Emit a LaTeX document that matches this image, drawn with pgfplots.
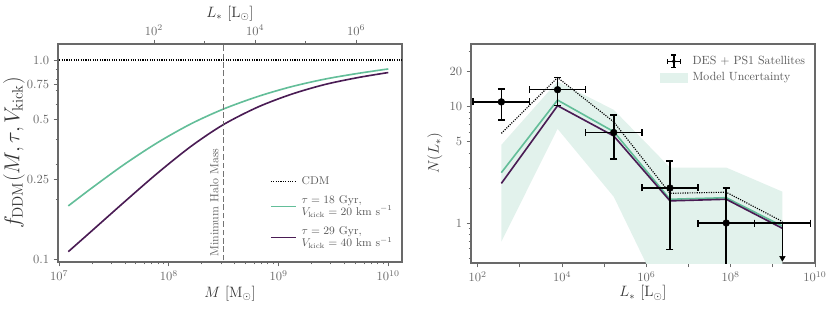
\documentclass[border=0pt]{standalone}
\usepackage{pgfplots}
\pgfplotsset{compat=1.18}
\usetikzlibrary{arrows.meta}
\definecolor{ddmgreen}{RGB}{99,190,153}
\definecolor{ddmpurple}{RGB}{74,28,84}
\definecolor{bandc}{RGB}{226,242,236}
\definecolor{framec}{RGB}{105,105,105}
\definecolor{tickc}{RGB}{105,105,105}
\begin{document}
\begin{tikzpicture}
\path[use as bounding box] (-46.4pt,-36.8pt) rectangle (617.6pt,209.6pt);
\pgfplotsset{
  myax/.style={
    scale only axis, width=275.2pt,
    axis line style={framec, line width=0.9pt},
    tick style={framec, line width=0.7pt},
    tick align=outside, major tick length=3.5pt, minor tick length=2pt,
    tick label style={text=tickc, font=\normalsize},
    label style={text=black!80, font=\large},
    tick pos=left,
  },
}
% ---------------- left panel ----------------
\begin{axis}[myax, at={(0,0)}, anchor=south west, height=174.4pt,
  xmode=log, ymode=log,
  xmin=9.772e6, xmax=1.334e10, ymin=0.0966, ymax=1.2035,
  xtick={1e7,1e8,1e9,1e10},
  minor xtick={2e7,3e7,4e7,5e7,6e7,7e7,8e7,9e7,2e8,3e8,4e8,5e8,6e8,7e8,8e8,9e8,2e9,3e9,4e9,5e9,6e9,7e9,8e9,9e9},
  ytick={0.1,0.25,0.5,0.75,1}, yticklabels={0.1,0.25,0.5,0.75,1.0},
  minor ytick={0.2,0.3,0.4,0.6,0.7,0.8,0.9},
  xlabel={$M\ [\mathrm{M}_\odot]$},
  ylabel={$f_{\mathrm{DDM}}(M, \tau, V_{\mathrm{kick}})$},
  xlabel style={at={(axis description cs:0.5,-0.1445)}, anchor=center},
  ylabel style={at={(axis description cs:-0.1279,0.5)}, anchor=center, font=\fontsize{18}{20}\selectfont},
  legend style={at={(axis description cs:0.605,0.415)}, anchor=north west,
    draw=none, fill=none, font=\fontsize{9}{10}\selectfont, row sep=3pt, column sep=2pt,
    cells={anchor=west, align=left}, nodes={text=black!65}},
  legend image code/.code={\draw[#1] (0cm,0cm) -- (0.7cm,0cm);},
]
\addplot[black, densely dotted, line width=0.9pt] coordinates {(5e6,1) (3e10,1)};
\addlegendentry{CDM}
\addplot[ddmgreen, line width=1.3pt, smooth] coordinates {
 (1.213e7,0.1849) (1.954e7,0.2259) (3.936e7,0.2992) (7.943e7,0.3855) (1.600e8,0.4786)
 (3.155e8,0.5675) (6.501e8,0.6561) (1.309e9,0.7345) (2.642e9,0.8017) (5.321e9,0.8570) (1e10,0.9016)};
\addlegendentry{$\tau = 18$ Gyr,\\ $V_{\mathrm{kick}} = 20$ km s$^{-1}$}
\addplot[ddmpurple, line width=1.3pt, smooth] coordinates {
 (1.213e7,0.1089) (1.954e7,0.1374) (3.936e7,0.1936) (7.943e7,0.2710) (1.600e8,0.3690)
 (3.155e8,0.4742) (6.501e8,0.5808) (1.309e9,0.6730) (2.642e9,0.7534) (5.321e9,0.8166) (1e10,0.8650)};
\addlegendentry{$\tau = 29$ Gyr,\\ $V_{\mathrm{kick}} = 40$ km s$^{-1}$}
\addplot[black!55, dash pattern=on 4.5pt off 2.2pt, line width=1.1pt, forget plot] coordinates {(3.16e8,0.05) (3.16e8,2)};
\node[rotate=90, anchor=south west, inner sep=4pt, text=black!60, font=\fontsize{9.5}{11}\selectfont]
  at (axis cs:3.16e8,0.0966) {Minimum Halo Mass};
\end{axis}
% ---------------- top axis (L*) ----------------
\begin{axis}[myax, at={(0,0)}, anchor=south west, height=174.4pt,
  xmode=log, xmin=1.259, xmax=8.035e6, ymin=0, ymax=1,
  hide y axis, xtick pos=right, xticklabel pos=right,
  xtick={1e2,1e4,1e6}, minor xtick={1e3,1e5},
  xlabel={$L_*\ [\mathrm{L}_\odot]$},
  xlabel style={at={(axis description cs:0.5,1.1405)}, anchor=center},
]
\addplot[draw=none] coordinates {(10,0.5)};
\end{axis}
% ---------------- right panel ----------------
\begin{axis}[myax, at={(330.4pt,-0.8pt)}, anchor=south west, height=175.2pt,
  xmode=log, ymode=log,
  xmin=69.2, xmax=1e10, ymin=0.453, ymax=34.6,
  xtick={1e2,1e4,1e6,1e8,1e10},
  extra x ticks={1e3,1e5,1e7,1e9}, extra x tick labels={},
  minor xtick={},
  ytick={1,5,10,20}, yticklabels={1,5,10,20},
  minor ytick={0.5,0.6,0.7,0.8,0.9,2,3,4,6,7,8,9,30},
  xlabel={$L_*\ [\mathrm{L}_\odot]$},
  ylabel={$N(L_*)$},
  xlabel style={at={(axis description cs:0.5,-0.137)}, anchor=center},
  ylabel style={at={(axis description cs:-0.1047,0.5)}, anchor=center},
  legend style={at={(axis description cs:0.538,0.968)}, anchor=north west,
    draw=none, fill=none, font=\fontsize{9.5}{11}\selectfont, row sep=1pt, column sep=2pt,
    cells={anchor=west}, nodes={text=black!65}},
]
\addlegendimage{legend image code/.code={
  \draw[black, line width=1.1pt] (0.2cm,0cm) -- (0.56cm,0cm)
     (0.38cm,-0.18cm) -- (0.38cm,0.18cm)
     (0.2cm,-0.07cm) -- (0.2cm,0.07cm) (0.56cm,-0.07cm) -- (0.56cm,0.07cm)
     (0.31cm,0.18cm) -- (0.45cm,0.18cm) (0.31cm,-0.18cm) -- (0.45cm,-0.18cm);
  \fill[black] (0.38cm,0cm) circle (0.05cm);}}
\addlegendentry{DES + PS1 Satellites}
\addlegendimage{legend image code/.code={\fill[bandc] (0cm,-0.13cm) rectangle (0.76cm,0.13cm);}}
\addlegendentry{Model Uncertainty}
% band
\addplot[fill=bandc, draw=none, forget plot] coordinates {
 (363.1,4.7) (7824,16.5) (168530,9.4) (3.6308e6,3.0) (7.824e7,3.0) (1.6853e9,1.86)
 (1.6853e9,0.17) (7.824e7,0.17) (3.6308e6,0.17) (168530,1.68) (7824,6.45) (363.1,0.69)} -- cycle;
% CDM
\addplot[black, densely dotted, line width=0.9pt, forget plot] coordinates {
 (363.1,5.9) (7824,17.8) (168530,7.4) (3.6308e6,1.8) (7.824e7,1.84) (1.6853e9,1.03)};
\addplot[ddmgreen, line width=1.3pt, forget plot] coordinates {
 (363.1,2.71) (7824,11.4) (168530,6.1) (3.6308e6,1.6) (7.824e7,1.65) (1.6853e9,0.94)};
\addplot[ddmpurple, line width=1.3pt, forget plot] coordinates {
 (363.1,2.19) (7824,10.2) (168530,5.6) (3.6308e6,1.55) (7.824e7,1.6) (1.6853e9,0.9)};
% data
\addplot[black, only marks, mark=*, mark size=2.7pt, forget plot,
  error bars/.cd, x dir=both, x explicit, y dir=both, y explicit,
  error bar style={line width=1.2pt, black},
  error mark options={rotate=90, line width=1.2pt, mark size=2.8pt, black}] coordinates {
 (363.1,11) += (1322,3.2) -= (285,3.3)
 (7824,14) += (28484,3.74) -= (6139,3.74)
 (168530,6) += (613870,2.45) -= (132222,2.45)
 (3.6308e6,2) += (1.3222e7,1.41) -= (2.8484e6,1.41)
 (7.824e7,1) += (2.8484e8,1) -= (6.139e7,0.99)};
% upper limit
\addplot[black, line width=1.2pt, mark=|, mark size=2.8pt, forget plot] coordinates {(3.6308e8,1) (7.824e9,1)};
\addplot[black, line width=1.2pt, forget plot] coordinates {(1.6853e9,1) (1.6853e9,0.5)};
\addplot[black, only marks, mark=triangle*, mark size=2.5pt, mark options={rotate=180}, forget plot] coordinates {(1.6853e9,0.5)};
\end{axis}
\end{tikzpicture}
\end{document}
